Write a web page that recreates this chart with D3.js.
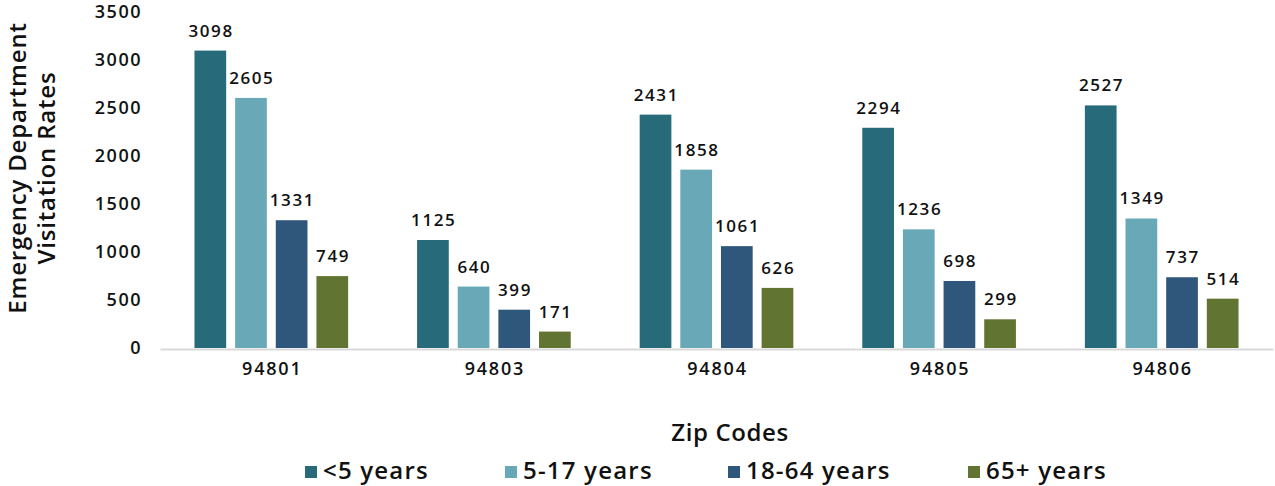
<!DOCTYPE html>
<html><head><meta charset="utf-8">
<script src="https://cdn.jsdelivr.net/npm/d3@7"></script>
<style>body{margin:0;background:#fff;} text{font-family:"Open Sans",sans-serif;}</style>
</head><body>
<svg id="c" width="1275" height="486"></svg>
<script>
const categories = ["94801","94803","94804","94805","94806"];
const seriesNames = ["<5 years","5-17 years","18-64 years","65+ years"];
const under5 = [3098,1125,2431,2294,2527];
const age5to17 = [2605,640,1858,1236,1349];
const age18to64 = [1331,399,1061,698,737];
const age65plus = [749,171,626,299,514];
const yTicks = [0,500,1000,1500,2000,2500,3000,3500];
const colors = ["#276b7a","#68a8b7","#2e577b","#627431"];
const series = [under5, age5to17, age18to64, age65plus];

const svg = d3.select("#c");
const x0 = d3.scaleBand().domain(categories).range([160,1273]).paddingInner(0).paddingOuter(0);
const x1 = d3.scaleBand().domain(d3.range(4)).range([30, x0.bandwidth()-30]).paddingInner(0.22).paddingOuter(0.11);
const y = d3.scaleLinear().domain([0,3500]).range([348,12]);

// y tick labels
const ya = svg.append("g").attr("transform","translate(142,0)")
  .call(d3.axisLeft(y).tickValues(yTicks).tickFormat(d3.format("d")).tickSize(0).tickPadding(0));
ya.select(".domain").remove();
ya.selectAll("text").attr("font-size",18).attr("font-weight",600).attr("fill","#111")
  .attr("letter-spacing",1.5).attr("font-family","'Open Sans',sans-serif");

// bars
const g = svg.append("g");
categories.forEach((c,ci)=>{
  series.forEach((s,si)=>{
    const bx = x0(c)+x1(si);
    g.append("rect").attr("x",bx).attr("y",y(s[ci])).attr("width",x1.bandwidth())
      .attr("height",y(0)-y(s[ci])).attr("fill",colors[si]);
    g.append("text").attr("x",bx+x1.bandwidth()/2+0.8).attr("y",y(s[ci])-14)
      .attr("text-anchor","middle").attr("font-size",17).attr("font-weight",600).attr("fill","#111")
      .attr("letter-spacing",1.6).text(s[ci]);
  });
});

// x axis
const xa = svg.append("g").attr("transform","translate(0,349)")
  .call(d3.axisBottom(x0).tickSize(0).tickPadding(13));
xa.select(".domain").attr("stroke","#d9d9d9").attr("stroke-width",2);
xa.selectAll("text").attr("font-size",18).attr("font-weight",600).attr("fill","#111")
  .attr("letter-spacing",1.8).attr("dx",1).attr("font-family","'Open Sans',sans-serif");

// axis titles
svg.append("text").attr("x",730).attr("y",441).attr("text-anchor","middle")
  .attr("font-size",24).attr("font-weight",600).attr("letter-spacing",0.6).attr("fill","#111").text("Zip Codes");
const yt = svg.append("text").attr("transform","translate(0,168) rotate(-90)")
  .attr("text-anchor","middle").attr("font-size",24).attr("font-weight",600)
  .attr("letter-spacing",0.8).attr("fill","#111");
yt.append("tspan").attr("x",0).attr("y",26).text("Emergency Department");
yt.append("tspan").attr("x",0).attr("y",55).text("Visitation Rates");

// legend
const legX = [305,505,728,968];
seriesNames.forEach((n,i)=>{
  svg.append("rect").attr("x",legX[i]).attr("y",466).attr("width",12).attr("height",12).attr("fill",colors[i]);
  svg.append("text").attr("x",legX[i]+18).attr("y",479).attr("font-size",24).attr("font-weight",600)
    .attr("letter-spacing",1.2).attr("fill","#111").text(n);
});
</script>
</body></html>
